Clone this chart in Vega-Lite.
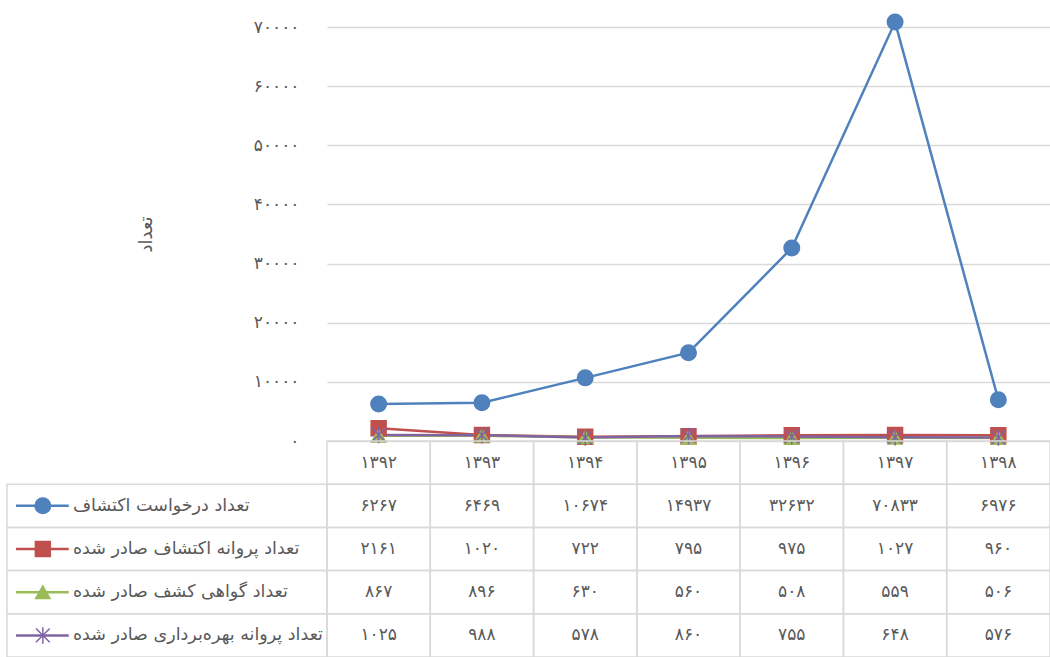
{
  "$schema": "https://vega.github.io/schema/vega-lite/v6.json",
  "padding": {"left": 6, "top": 11, "right": 0, "bottom": 0},
  "background": "white",
  "datasets": {
    "d": [
      {"year": 1392, "s": "تعداد درخواست اکتشاف", "v": 6267},
      {"year": 1393, "s": "تعداد درخواست اکتشاف", "v": 6469},
      {"year": 1394, "s": "تعداد درخواست اکتشاف", "v": 10674},
      {"year": 1395, "s": "تعداد درخواست اکتشاف", "v": 14937},
      {"year": 1396, "s": "تعداد درخواست اکتشاف", "v": 32632},
      {"year": 1397, "s": "تعداد درخواست اکتشاف", "v": 70833},
      {"year": 1398, "s": "تعداد درخواست اکتشاف", "v": 6976},
      {"year": 1392, "s": "تعداد پروانه اکتشاف صادر شده", "v": 2161},
      {"year": 1393, "s": "تعداد پروانه اکتشاف صادر شده", "v": 1020},
      {"year": 1394, "s": "تعداد پروانه اکتشاف صادر شده", "v": 722},
      {"year": 1395, "s": "تعداد پروانه اکتشاف صادر شده", "v": 795},
      {"year": 1396, "s": "تعداد پروانه اکتشاف صادر شده", "v": 975},
      {"year": 1397, "s": "تعداد پروانه اکتشاف صادر شده", "v": 1027},
      {"year": 1398, "s": "تعداد پروانه اکتشاف صادر شده", "v": 960},
      {"year": 1392, "s": "تعداد گواهی کشف صادر شده", "v": 867},
      {"year": 1393, "s": "تعداد گواهی کشف صادر شده", "v": 896},
      {"year": 1394, "s": "تعداد گواهی کشف صادر شده", "v": 630},
      {"year": 1395, "s": "تعداد گواهی کشف صادر شده", "v": 560},
      {"year": 1396, "s": "تعداد گواهی کشف صادر شده", "v": 508},
      {"year": 1397, "s": "تعداد گواهی کشف صادر شده", "v": 559},
      {"year": 1398, "s": "تعداد گواهی کشف صادر شده", "v": 506},
      {"year": 1392, "s": "تعداد پروانه بهره‌برداری صادر شده", "v": 1025},
      {"year": 1393, "s": "تعداد پروانه بهره‌برداری صادر شده", "v": 988},
      {"year": 1394, "s": "تعداد پروانه بهره‌برداری صادر شده", "v": 578},
      {"year": 1395, "s": "تعداد پروانه بهره‌برداری صادر شده", "v": 860},
      {"year": 1396, "s": "تعداد پروانه بهره‌برداری صادر شده", "v": 755},
      {"year": 1397, "s": "تعداد پروانه بهره‌برداری صادر شده", "v": 648},
      {"year": 1398, "s": "تعداد پروانه بهره‌برداری صادر شده", "v": 576}
    ]
  },
  "columns": 2,
  "spacing": 0,
  "bounds": "flush",
  "align": "each",
  "concat": [
    {
      "width": 320,
      "height": 414,
      "data": {"values": [{}]},
      "mark": {"type": "text"},
      "encoding": {"text": {"value": ""}}
    },
    {
      "width": 723,
      "height": 414,
      "data": {"name": "d"},
      "layer": [
        {
          "mark": {"type": "line", "strokeWidth": 2.5},
          "encoding": {
            "x": {"field": "year", "type": "ordinal", "axis": null, "scale": {"type": "point", "padding": 0.5}},
            "y": {
              "field": "v", "type": "quantitative",
              "scale": {"domain": [0, 70000], "nice": false},
              "axis": {
                "title": "تعداد",
                "values": [0, 10000, 20000, 30000, 40000, 50000, 60000, 70000],
                "format": "d",
                "grid": true, "gridColor": "#d9d9d9", "gridWidth": 1.3,
                "domain": false, "ticks": false,
                "labelPadding": 28, "labelFontSize": 17, "labelColor": "#595959", "labelFlush": false,
                "titleFontSize": 18, "titleColor": "#595959", "titleFontWeight": "normal", "titlePadding": 98
              }
            },
            "color": {
              "field": "s", "type": "nominal", "legend": null,
              "scale": {
                "domain": ["تعداد درخواست اکتشاف", "تعداد پروانه اکتشاف صادر شده", "تعداد گواهی کشف صادر شده", "تعداد پروانه بهره‌برداری صادر شده"],
                "range": ["#4F81BD", "#C0504D", "#9BBB59", "#8064A2"]
              }
            }
          }
        },
        {
          "mark": {"type": "point", "filled": true, "opacity": 1, "strokeWidth": 1.5},
          "encoding": {
            "x": {"field": "year", "type": "ordinal"},
            "y": {"field": "v", "type": "quantitative"},
            "color": {"field": "s", "type": "nominal", "legend": null},
            "stroke": {
              "field": "s", "type": "nominal", "legend": null,
              "scale": {
                "domain": ["تعداد درخواست اکتشاف", "تعداد پروانه اکتشاف صادر شده", "تعداد گواهی کشف صادر شده", "تعداد پروانه بهره‌برداری صادر شده"],
                "range": ["#4F81BD", "#C0504D", "#9BBB59", "#8064A2"]
              }
            },
            "shape": {
              "field": "s", "type": "nominal", "legend": null,
              "scale": {
                "domain": ["تعداد درخواست اکتشاف", "تعداد پروانه اکتشاف صادر شده", "تعداد گواهی کشف صادر شده", "تعداد پروانه بهره‌برداری صادر شده"],
                "range": ["circle", "square", "triangle-up", "M-1,-1L1,1M-1,1L1,-1M0,-1.2L0,1.2"]
              }
            },
            "size": {
              "field": "s", "type": "nominal", "legend": null,
              "scale": {
                "domain": ["تعداد درخواست اکتشاف", "تعداد پروانه اکتشاف صادر شده", "تعداد گواهی کشف صادر شده", "تعداد پروانه بهره‌برداری صادر شده"],
                "range": [240, 190, 140, 190]
              }
            }
          }
        }
      ]
    },
    {
      "width": 320,
      "height": 216,
      "data": {"name": "d"},
      "transform": [{"filter": "datum.year == 1392"}],
      "layer": [
        {
          "mark": {"type": "rect", "filled": false, "color": "#d9d9d9", "strokeWidth": 1.5},
          "encoding": {
            "x": {"datum": 0, "type": "quantitative", "scale": {"domain": [0, 100], "nice": false, "zero": false}, "axis": null},
            "x2": {"datum": 100},
            "y": {
              "field": "s", "type": "nominal", "axis": null,
              "scale": {
                "domain": ["h", "تعداد درخواست اکتشاف", "تعداد پروانه اکتشاف صادر شده", "تعداد گواهی کشف صادر شده", "تعداد پروانه بهره‌برداری صادر شده"],
                "paddingInner": 0, "paddingOuter": 0
              }
            }
          }
        },
        {
          "mark": {"type": "rule", "strokeWidth": 2.5},
          "encoding": {
            "x": {"datum": 2.8, "type": "quantitative"},
            "x2": {"datum": 19.3},
            "y": {"field": "s", "type": "nominal", "bandPosition": 0.5},
            "color": {"field": "s", "type": "nominal", "legend": null}
          }
        },
        {
          "mark": {"type": "point", "filled": true, "opacity": 1, "strokeWidth": 1.5},
          "encoding": {
            "x": {"datum": 11.2, "type": "quantitative"},
            "y": {"field": "s", "type": "nominal"},
            "color": {"field": "s", "type": "nominal", "legend": null},
            "stroke": {"field": "s", "type": "nominal", "legend": null},
            "shape": {"field": "s", "type": "nominal", "legend": null},
            "size": {"field": "s", "type": "nominal", "legend": null}
          }
        },
        {
          "mark": {"type": "text", "align": "left", "baseline": "middle", "fontSize": 17.5, "color": "#595959"},
          "encoding": {
            "x": {"datum": 20.6, "type": "quantitative"},
            "y": {"field": "s", "type": "nominal"},
            "text": {"field": "s", "type": "nominal"}
          }
        }
      ]
    },
    {
      "width": 723,
      "height": 216,
      "data": {"name": "d"},
      "layer": [
        {
          "mark": {"type": "rect", "filled": false, "color": "#d9d9d9", "strokeWidth": 1.5},
          "encoding": {
            "x": {"field": "year", "type": "ordinal", "axis": null, "scale": {"paddingInner": 0, "paddingOuter": 0}},
            "y": {
              "field": "s", "type": "nominal", "axis": null,
              "scale": {
                "domain": ["h", "تعداد درخواست اکتشاف", "تعداد پروانه اکتشاف صادر شده", "تعداد گواهی کشف صادر شده", "تعداد پروانه بهره‌برداری صادر شده"],
                "paddingInner": 0, "paddingOuter": 0
              }
            }
          }
        },
        {
          "transform": [{"filter": {"field": "s", "equal": "تعداد درخواست اکتشاف"}}],
          "mark": {"type": "rect", "filled": false, "color": "#d9d9d9", "strokeWidth": 1.5},
          "encoding": {
            "x": {"field": "year", "type": "ordinal"},
            "y": {"datum": "h", "type": "nominal"}
          }
        },
        {
          "mark": {"type": "text", "fontSize": 17, "color": "#595959", "baseline": "middle"},
          "encoding": {
            "x": {"field": "year", "type": "ordinal"},
            "y": {"field": "s", "type": "nominal"},
            "text": {"field": "v", "type": "quantitative", "format": "d"}
          }
        },
        {
          "transform": [{"filter": {"field": "s", "equal": "تعداد درخواست اکتشاف"}}],
          "mark": {"type": "text", "fontSize": 17, "color": "#595959", "baseline": "middle"},
          "encoding": {
            "x": {"field": "year", "type": "ordinal"},
            "y": {"datum": "h", "type": "nominal"},
            "text": {"field": "year", "type": "quantitative", "format": "d"}
          }
        }
      ]
    }
  ],
  "config": {
    "view": {"stroke": null},
    "font": "DejaVu Sans",
    "locale": {
      "number": {
        "decimal": ".",
        "thousands": ",",
        "grouping": [3],
        "currency": ["", ""],
        "numerals": ["۰", "۱", "۲", "۳", "۴", "۵", "۶", "۷", "۸", "۹"]
      }
    }
  }
}
